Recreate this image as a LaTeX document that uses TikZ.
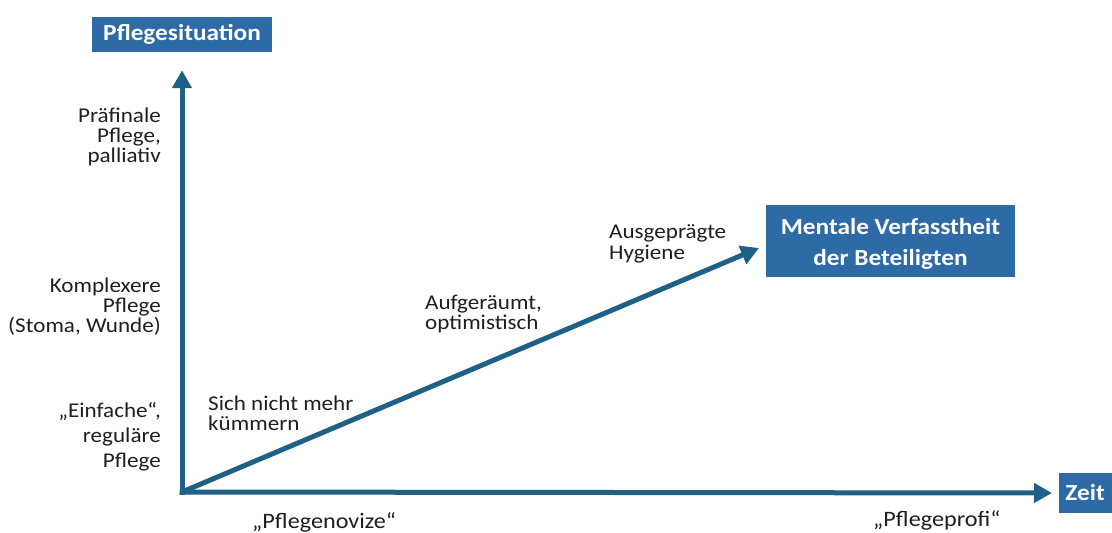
\documentclass[tikz,border=0pt]{standalone}
\usepackage{fontspec}
\setmainfont{Carlito}[FakeStretch=1.1]
\usetikzlibrary{arrows.meta}
\definecolor{boxblue}{RGB}{46,106,166}
\definecolor{arrowblue}{RGB}{30,96,134}
\definecolor{textgray}{RGB}{30,30,30}
\begin{document}
\begin{tikzpicture}[x=1pt,y=-1pt,
  titlebox/.style={fill=boxblue,text=white,font=\fontsize{23}{25}\selectfont\bfseries,inner sep=0pt,align=center},
  lbl/.style={text=textgray,font=\fontsize{21}{20}\selectfont,inner sep=0pt},
  axis/.style={draw=arrowblue,line width=5pt,-{Triangle[width=19pt,length=18pt]}}]
\useasboundingbox (0,0) rectangle (1112,533);
% boxes
\node[titlebox,minimum width=180pt,minimum height=35pt] (ybox) at (182,34.5) {\raisebox{-1.5pt}{Pflegesituation}};
\node[titlebox,minimum width=249pt,minimum height=72pt] (mbox) at (890.5,241) {};
\node[titlebox,anchor=center] (mtext) at (890.5,244) {Mentale Verfasstheit\\[6pt]der Beteiligten};
\node[titlebox,minimum width=56pt,minimum height=40pt,anchor=west] (zbox) at (1059,493) {\hspace*{-4pt}Zeit};
% axes
\coordinate (O) at (182,492);
\coordinate (Ob) at (182,494.5);
\coordinate (Ol) at (179.5,492);
\draw[axis] (Ob) -- (ybox.south) [shorten >=18pt];
\draw[axis] (Ol) -- (zbox.west) [shorten >=7pt];
\coordinate (dtip) at (759,248);
\draw[axis] (O) -- (dtip);
% left labels (anchor = baseline of last line)
\node[lbl,anchor=base east,align=right] (l1) at (161,162) {Präfinale\\Pflege,\\palliativ};
\node[lbl,anchor=base east,align=right] (l2) at (161,332) {Komplexere\\Pflege\\(Stoma, Wunde)};
\node[lbl,anchor=base east,align=right,font=\fontsize{21}{25}\selectfont] (l3) at (161,467) {„Einfache“,\\reguläre\\Pflege};
% diagonal labels
\node[lbl,anchor=base west,align=left] (d1) at (208,430) {Sich nicht mehr\\kümmern};
\node[lbl,anchor=base west,align=left] (d2) at (425,329) {Aufgeräumt,\\optimistisch};
\node[lbl,anchor=base west,align=left,font=\fontsize{21}{21}\selectfont] (d3) at (609,259) {Ausgeprägte\\Hygiene};
% bottom labels
\node[lbl,anchor=base west,font=\fontsize{22}{22}\selectfont] (b1) at (252,528) {„Pflegenovize“};
\node[lbl,anchor=base west,font=\fontsize{22}{22}\selectfont] (b2) at (873,526) {„Pflegeprofi“};
\end{tikzpicture}
\end{document}
